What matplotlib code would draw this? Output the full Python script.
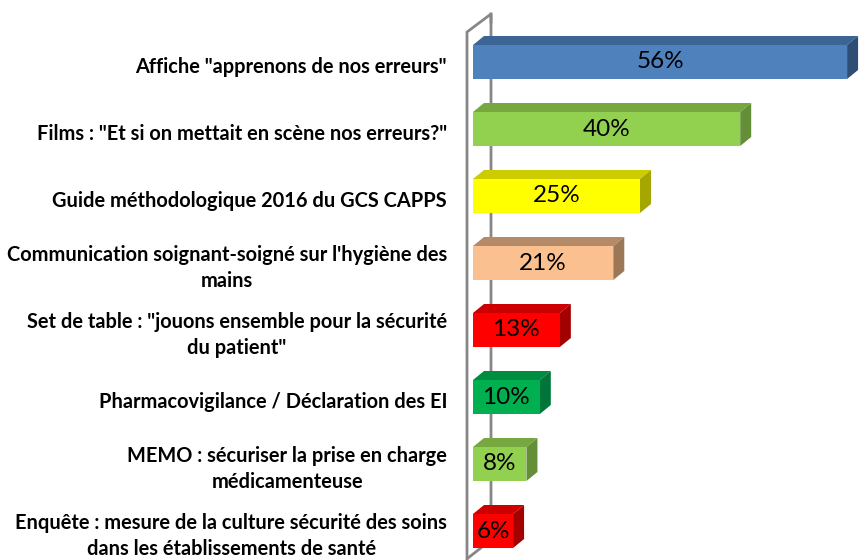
import matplotlib
matplotlib.use("Agg")
import matplotlib.pyplot as plt
from matplotlib.patches import Polygon

# data (top to bottom)
labels = [
    'Affiche "apprenons de nos erreurs"',
    'Films : "Et si on mettait en scène nos erreurs?"',
    'Guide méthodologique 2016 du GCS CAPPS',
    "Communication soignant-soigné sur l'hygiène des\nmains",
    'Set de table : "jouons ensemble pour la sécurité\ndu patient"',
    'Pharmacovigilance / Déclaration des EI',
    'MEMO : sécuriser la prise en charge\nmédicamenteuse',
    'Enquête : mesure de la culture sécurité des soins\ndans les établissements de santé',
]
values = [56, 40, 25, 21, 13, 10, 8, 6]
front_colors = ['#4F81BD', '#92D050', '#FFFF00', '#FAC090', '#FF0000', '#00B050', '#92D050', '#FF0000']
top_colors = ['#3C6494', '#76A83F', '#CCCC00', '#B48A68', '#CC0000', '#008D40', '#76A83F', '#CC0000']
side_colors = ['#2F4E75', '#648F37', '#A6A600', '#9C7757', '#A30000', '#00753A', '#648F37', '#A30000']

PX = 6.68          # pixels per percent
fig = plt.figure(figsize=(8.59, 5.6), dpi=100)
ax = fig.add_axes([0, 0, 1, 1])
ax.set_xlim(-473 / PX, 386 / PX)
ax.set_ylim((560 - 62) / 67, -62 / 67)
ax.axis('off')

h = 17 / 67        # half bar height
dx = 11 / PX       # 3d depth
dy = -9 / 67

# back wall
wl, wr = -6 / PX, 18 / PX
ax.plot([wr, wr, (468 - 473) / PX], [-48 / 67, 478 / 67, 496 / 67], color='#878787', lw=2, zorder=1, clip_on=False)
ax.plot([wl, wl, wr, wr], [500 / 67, -30 / 67, -48 / 67, -40 / 67], color='#878787', lw=2, zorder=1, clip_on=False)

for i, v in enumerate(values):
    ax.barh(i, v, height=2 * h, color=front_colors[i], zorder=3)
    top = Polygon([(0, i - h), (dx, i - h + dy), (v + dx, i - h + dy), (v, i - h)],
                  closed=True, facecolor=top_colors[i], edgecolor='none', zorder=2, clip_on=False)
    side = Polygon([(v, i - h), (v + dx, i - h + dy), (v + dx, i + h + dy), (v, i + h)],
                   closed=True, facecolor=side_colors[i], edgecolor='none', zorder=2, clip_on=False)
    ax.add_patch(top)
    ax.add_patch(side)
    ax.text(v / 2, i, f'{v}%', ha='center', va='center', fontsize=17.5, family='Lato', zorder=4)
    ax.text(-26 / PX, i + 5 / 67, labels[i], ha='right', va='center', multialignment='center',
            fontsize=14.4, fontweight='bold', family='Lato', linespacing=1.4)

fig.savefig('out.png', dpi=100)
